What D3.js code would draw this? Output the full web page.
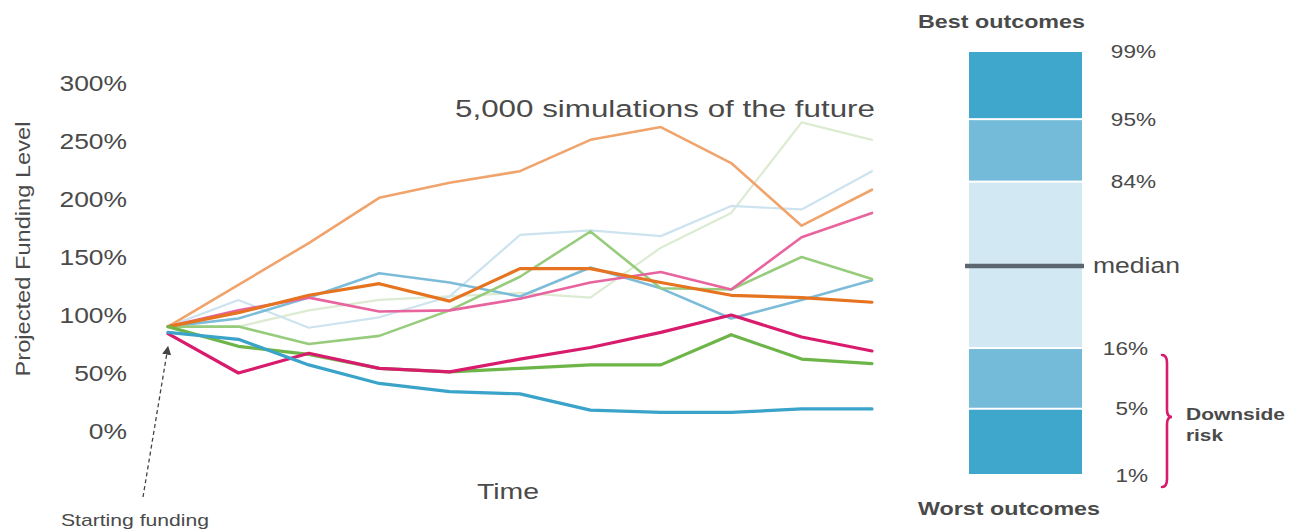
<!DOCTYPE html>
<html><head><meta charset="utf-8">
<script src="https://cdn.jsdelivr.net/npm/d3@7"></script>
<style>
body{margin:0;background:#fff}
svg{display:block}
text{font-family:"Liberation Sans",Arial,Helvetica,sans-serif}
</style>
</head><body>
<svg id="chart" width="1303" height="530"></svg>
<script>
// ---------------- DATA ----------------
const timeSteps = [0,1,2,3,4,5,6,7,8,9,10];
const yTicks = [0,50,100,150,200,250,300];

const paleGreen   = [90, 90,104,113,116,119,115,158,188,266,251];
const paleBlue    = [90,113, 89, 98,116,169,173,168,194,191,224];
const lightOrange = [90,126,162,201,214,224,251,262,231,177,208];
const mediumBlue  = [90, 97,115,136,128,116,141,123, 97,113,130];
const mediumGreen = [90, 90, 75, 82,104,133,172,123,122,150,131];
const pinkSeries  = [90,104,115,103,104,114,128,137,122,167,188];
const darkOrange  = [90,102,117,127,112,140,140,128,117,115,111];
const greenSeries = [90, 73, 66, 54, 51, 54, 57, 57, 83, 62, 58];
const magentaSeries=[84, 50, 67, 54, 51, 62, 72, 85,100, 81, 69];
const blueSeries  = [85, 79, 57, 41, 34, 32, 18, 16, 16, 19, 19];

const percentiles = [1,5,16,50,84,95,99];
const bandEdges = [1,5,16,84,95,99];
const percentLabels = ["1%","5%","16%","median","84%","95%","99%"];

// ---------------- STYLES ----------------
const series = [
  {v: paleGreen,     c:"#dcebd1", w:2.2},
  {v: paleBlue,      c:"#cde3ef", w:2.2},
  {v: lightOrange,   c:"#f0a46c", w:2.6},
  {v: mediumBlue,    c:"#7dbcd8", w:2.6},
  {v: mediumGreen,   c:"#98cc7d", w:2.6},
  {v: pinkSeries,    c:"#e8649e", w:2.6},
  {v: darkOrange,    c:"#e5731f", w:3.2},
  {v: greenSeries,   c:"#6db548", w:3.2},
  {v: magentaSeries, c:"#d81b6d", w:3.2},
  {v: blueSeries,    c:"#3aa3c9", w:3.2}
];
const bandColors = ["#3fa6cc","#74bbd9","#d2e8f2","#74bbd9","#3fa6cc"];
const textColor = "#4a4a4a";

const svg = d3.select("#chart");

// ---------------- LINE CHART ----------------
const x = d3.scalePoint().domain(timeSteps).range([168, 872]);
const y = d3.scaleLinear().domain([0, 300]).range([431, 83]);

const line = d3.line().x((d,i)=>x(timeSteps[i])).y(d=>y(d)).curve(d3.curveLinear);

svg.append("g").selectAll("path").data(series).join("path")
  .attr("d", d=>line(d.v))
  .attr("fill","none")
  .attr("stroke", d=>d.c)
  .attr("stroke-width", d=>d.w)
  .attr("stroke-linejoin","round")
  .attr("stroke-linecap","round");

// y axis labels
const yAxis = d3.axisLeft(y).tickValues(yTicks).tickFormat(d=>d+"%").tickSize(0).tickPadding(0);
const ga = svg.append("g").attr("transform","translate(127,0)").call(yAxis);
ga.select(".domain").remove();
ga.selectAll("text")
  .attr("x",0).attr("dy","0.36em")
  .attr("font-size",22).attr("fill",textColor)
  .attr("font-family",'"Liberation Sans",Arial,sans-serif')
  .attr("transform","scale(1.2,1)");

// y title
svg.append("text")
  .attr("transform","translate(30,249) rotate(-90)")
  .attr("text-anchor","middle")
  .attr("font-size",21).attr("fill",textColor)
  .attr("textLength",255).attr("lengthAdjust","spacingAndGlyphs")
  .text("Projected Funding Level");

// title
svg.append("text")
  .attr("x",455).attr("y",117)
  .attr("font-size",24.5).attr("fill",textColor)
  .attr("textLength",420).attr("lengthAdjust","spacingAndGlyphs")
  .text("5,000 simulations of the future");

// x title
svg.append("text")
  .attr("x",477).attr("y",499)
  .attr("font-size",22).attr("fill",textColor)
  .attr("textLength",62).attr("lengthAdjust","spacingAndGlyphs")
  .text("Time");

// starting funding annotation
svg.append("defs").append("marker")
  .attr("id","arrow").attr("viewBox","0 0 10 10")
  .attr("refX",9).attr("refY",5)
  .attr("markerWidth",9).attr("markerHeight",9)
  .attr("markerUnits","userSpaceOnUse")
  .attr("orient","auto")
  .append("path").attr("d","M0,0 L10,5 L0,10 Z").attr("fill","#444");

svg.append("line")
  .attr("x1",143).attr("y1",497)
  .attr("x2",x(timeSteps[0])).attr("y2",y(paleGreen[0])+20)
  .attr("stroke","#444").attr("stroke-width",1.3)
  .attr("stroke-dasharray","4,3")
  .attr("marker-end","url(#arrow)");

svg.append("text")
  .attr("x",61).attr("y",526)
  .attr("font-size",17).attr("fill",textColor)
  .attr("textLength",148).attr("lengthAdjust","spacingAndGlyphs")
  .text("Starting funding");

// ---------------- PERCENTILE BAR ----------------
function probit(p){
  const q = p < 0.5 ? p : 1 - p;
  const t = Math.sqrt(-2*Math.log(q));
  const z = t - (2.515517 + 0.802853*t + 0.010328*t*t)/(1 + 1.432788*t + 0.189269*t*t + 0.001308*t*t*t);
  return p < 0.5 ? -z : z;
}
const zMax = probit(0.99);
const pY = d3.scalePow().exponent(1.1).domain([-zMax, 0, zMax]).range([475, 266, 51]);
const py = p => pY(probit(p/100));

const barX0 = 969, barX1 = 1082;
const bands = d3.pairs(bandEdges);
svg.append("g").selectAll("rect").data(bands).join("rect")
  .attr("x",barX0).attr("width",barX1-barX0)
  .attr("y",d=>py(d[1])+1)
  .attr("height",d=>py(d[0])-py(d[1])-2)
  .attr("fill",(d,i)=>bandColors[i]);

// median line
svg.append("line")
  .attr("x1",965).attr("x2",1084)
  .attr("y1",py(50)).attr("y2",py(50))
  .attr("stroke","#5b6670").attr("stroke-width",4.5);

// percent labels
svg.append("g").selectAll("text").data(percentiles).join("text")
  .attr("transform",(d)=>{
    if (d===50) return `translate(1093,${py(d)+7})`;
    const xe = d>50 ? 1156 : 1148;
    return `translate(${xe},${py(d)+6.5}) scale(1.22,1)`;
  })
  .attr("text-anchor",d=>d===50?"start":"end")
  .attr("font-size",d=>d===50?22:18.5)
  .attr("fill",textColor)
  .each(function(d,i){
    const t = d3.select(this).text(percentLabels[i]);
    if (d===50) t.attr("textLength",87).attr("lengthAdjust","spacingAndGlyphs");
  });

// best / worst
svg.append("text").attr("x",918).attr("y",28)
  .attr("font-size",17.5).attr("font-weight","bold").attr("fill",textColor)
  .attr("textLength",167).attr("lengthAdjust","spacingAndGlyphs")
  .text("Best outcomes");
svg.append("text").attr("x",918).attr("y",515)
  .attr("font-size",17.5).attr("font-weight","bold").attr("fill",textColor)
  .attr("textLength",182).attr("lengthAdjust","spacingAndGlyphs")
  .text("Worst outcomes");

// brace
const bTop = py(16)+7, bBot = py(1)+12, bMid = (bTop+bBot)/2 - 4;
const bx = 1165;
svg.append("path")
  .attr("d",`M${bx-3},${bTop} Q${bx+2},${bTop} ${bx+2},${bTop+8} L${bx+2},${bMid-7} Q${bx+2},${bMid} ${bx+7},${bMid} Q${bx+2},${bMid} ${bx+2},${bMid+7} L${bx+2},${bBot-8} Q${bx+2},${bBot} ${bx-3},${bBot}`)
  .attr("fill","none").attr("stroke","#d81b6d").attr("stroke-width",2.6)
  .attr("stroke-linecap","round");

svg.append("text").attr("x",1186).attr("y",420)
  .attr("font-size",17).attr("font-weight","bold").attr("fill",textColor)
  .attr("textLength",99).attr("lengthAdjust","spacingAndGlyphs")
  .text("Downside");
svg.append("text").attr("x",1186).attr("y",441)
  .attr("font-size",17).attr("font-weight","bold").attr("fill",textColor)
  .attr("textLength",37).attr("lengthAdjust","spacingAndGlyphs")
  .text("risk");
</script>
</body></html>
